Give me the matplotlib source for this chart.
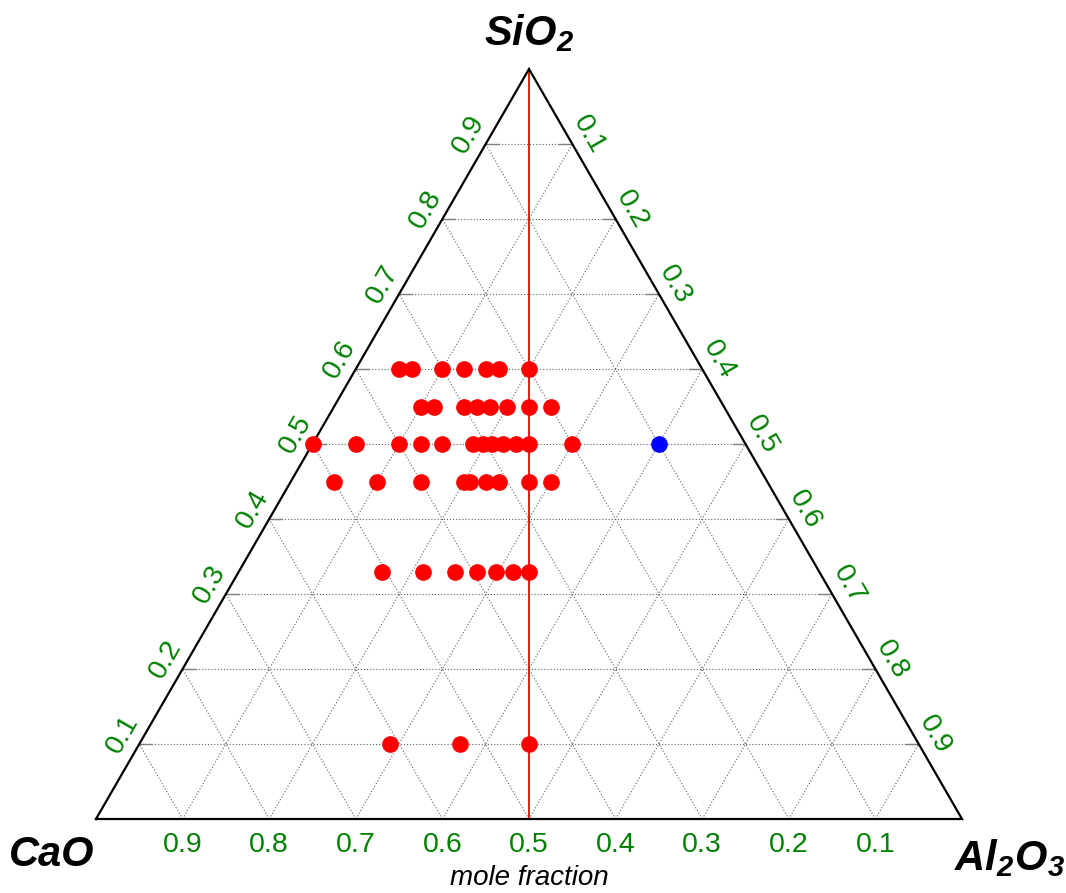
import numpy as np
import matplotlib
matplotlib.use("Agg")
from matplotlib import pyplot as plt

#################################
# data (mole fractions)
#################################
# measured compositions, grouped by SiO2 level
sio2_red = ([0.60] * 7 + [0.55] * 8 + [0.50] * 12 + [0.45] * 9
            + [0.33] * 7 + [0.10] * 3)
al2o3_red = [0.05, 0.065, 0.10, 0.125, 0.15, 0.165, 0.20,
             0.10, 0.115, 0.15, 0.165, 0.18, 0.20, 0.225, 0.25,
             0.0, 0.05, 0.10, 0.125, 0.15, 0.185, 0.197, 0.207, 0.22, 0.235, 0.25, 0.30,
             0.05, 0.10, 0.15, 0.20, 0.207, 0.225, 0.24, 0.275, 0.30,
             0.165, 0.213, 0.25, 0.275, 0.297, 0.317, 0.335,
             0.29, 0.37, 0.45]
sio2_blue = [0.50]
al2o3_blue = [0.40]

ticks = [0.1, 0.2, 0.3, 0.4, 0.5, 0.6, 0.7, 0.8, 0.9]
tick_labels = ["0.1", "0.2", "0.3", "0.4", "0.5", "0.6", "0.7", "0.8", "0.9"]

H = np.sqrt(3) / 2.0


def tern(si, al):
    # (SiO2, Al2O3) -> cartesian, CaO at origin, Al2O3 at (1,0)
    si = np.asarray(si, dtype=float)
    al = np.asarray(al, dtype=float)
    return al + si / 2.0, si * H


#################################
# figure
#################################
plt.rcParams['font.family'] = ['Liberation Sans', 'DejaVu Sans']
plt.rcParams['mathtext.default'] = 'regular'

fig = plt.figure(figsize=(10.66, 8.93), dpi=100)
ax = fig.add_axes([0, 0, 1, 1])
ax.set_xlim(-96 / 866.0, 970 / 866.0)
ax.set_ylim(-74 / 866.0, 819 / 866.0)
ax.axis("off")

green = "#008000"
gridc = "#606060"
gridls = (0, (1, 1.8))

# grid lines
for k in ticks:
    # constant SiO2
    x, y = tern([k, k], [0, 1 - k])
    ax.plot(x, y, color=gridc, lw=0.8, ls=gridls, zorder=1)
    # short solid stubs at both edges
    d = 13 / 866.0
    ax.plot([x[0], x[0] + d], [y[0], y[0]], color="gray", lw=1.0, zorder=1)
    ax.plot([x[1] - d, x[1]], [y[1], y[1]], color="gray", lw=1.0, zorder=1)
    # constant Al2O3
    x, y = tern([0, 1 - k], [k, k])
    ax.plot(x, y, color=gridc, lw=0.8, ls=gridls, zorder=1)
    # constant CaO
    x, y = tern([0, 1 - k], [1 - k, 0])
    ax.plot(x, y, color=gridc, lw=0.8, ls=gridls, zorder=1)

# triangle frame
ax.plot([0, 1, 0.5, 0], [0, 0, H, 0], color="black", lw=1.6, zorder=3,
        solid_joinstyle="miter")

# CaO/Al2O3 = 1 line
ax.plot([0.5, 0.5], [0, H], color="red", lw=1.3, zorder=2)

# tick labels
off = 19 / 866.0
for k, lab in zip(ticks, tick_labels):
    x, y = tern(k, 0)  # left edge, SiO2
    ax.text(x - off * 0.866, y + off * 0.5, lab, color=green, fontsize=20.5,
            rotation=60, ha="center", va="center", rotation_mode="anchor")
    x, y = tern(1 - k, k)  # right edge, Al2O3
    ax.text(x + off * 0.866, y + off * 0.5, lab, color=green, fontsize=20.5,
            rotation=-60, ha="center", va="center", rotation_mode="anchor")
    x, y = tern(0, 1 - k)  # bottom edge, CaO
    ax.text(x, y - 26 / 866.0, lab, color=green, fontsize=20.5,
            ha="center", va="center")

# vertex labels
ax.text(0.5, (819 - 33) / 866.0, "SiO$_2$", fontsize=30, fontweight="bold",
        style="italic", ha="center", va="center")
ax.text(-44 / 866.0, -36 / 866.0, "CaO", fontsize=30, fontweight="bold",
        style="italic", ha="center", va="center")
ax.text(913 / 866.0, -39 / 866.0, "Al$_2$O$_3$", fontsize=30, fontweight="bold",
        style="italic", ha="center", va="center")
ax.text(0.5, -59 / 866.0, "mole fraction", fontsize=20, style="italic",
        ha="center", va="center")

# data points
x, y = tern(sio2_red, al2o3_red)
ax.plot(x, y, "o", color="red", ms=11, mec="red", zorder=4, clip_on=False)
x, y = tern(sio2_blue, al2o3_blue)
ax.plot(x, y, "o", color="blue", ms=11, mec="blue", zorder=4, clip_on=False)

fig.savefig("out.png", dpi=100)
